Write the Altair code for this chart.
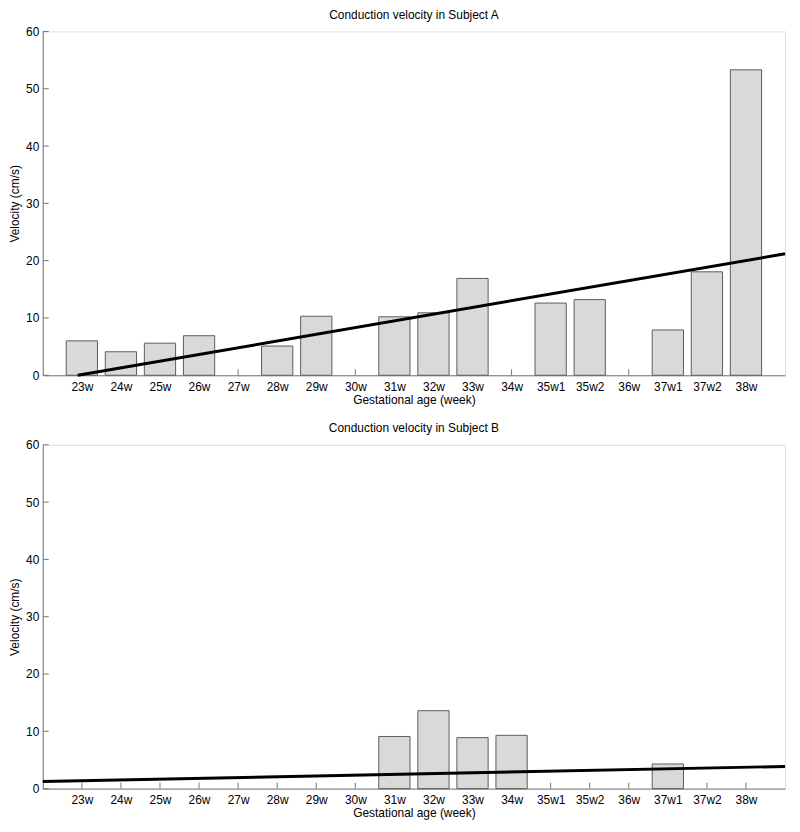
import altair as alt
import pandas as pd

weeks = ["23w", "24w", "25w", "26w", "27w", "28w", "29w", "30w", "31w", "32w",
         "33w", "34w", "35w1", "35w2", "36w", "37w1", "37w2", "38w"]
vel_a = [6.0, 4.1, 5.6, 6.9, None, 5.1, 10.3, None, 10.2, 10.9,
         16.9, None, 12.6, 13.2, None, 7.9, 18.05, 53.3]
vel_b = [None, None, None, None, None, None, None, None, 9.1, 13.6,
         8.9, 9.3, None, None, None, 4.3, None, None]
fit_x_a = [0.895, 19]
fit_a = [0.0, 21.2]
fit_x_b = [0, 19]
fit_b = [1.25, 3.87]
y_ticks = [0, 10, 20, 30, 40, 50, 60]
titles = ["Conduction velocity in Subject A", "Conduction velocity in Subject B"]

W, H = 747, 346
FONT = "Liberation Sans"
AXIS_GRAY = "#777777"

label_expr = "[" + ",".join(f"'{w}'" for w in weeks) + "][datum.value - 1]"

x_scale = alt.Scale(domain=[0, 19], nice=False, zero=False)
y_scale = alt.Scale(domain=[0, 60], nice=False)

x_axis = alt.Axis(values=list(range(1, len(weeks) + 1)), labelExpr=label_expr,
                  title="Gestational age (week)", ticks=False, grid=False,
                  domainColor=AXIS_GRAY, labelPadding=6, titlePadding=2)
y_axis = alt.Axis(values=y_ticks, title="Velocity (cm/s)", ticks=False, grid=False,
                  domainColor=AXIS_GRAY, labelPadding=4, titlePadding=4)


def panel(vals, fx, fit, title):
    df = pd.DataFrame({"pos": list(range(1, len(weeks) + 1)), "week": weeks, "v": vals})
    bars_df = df.dropna()
    fit_df = pd.DataFrame({"fx": fx, "fy": fit})
    yt_df = pd.DataFrame({"t": y_ticks})

    xticks = alt.Chart(df).mark_rule(color=AXIS_GRAY, strokeWidth=1).encode(
        x=alt.X("pos:Q", scale=x_scale, axis=x_axis),
        y=alt.value(H), y2=alt.value(H - 6))
    yticks = alt.Chart(yt_df).mark_rule(color=AXIS_GRAY, strokeWidth=1).encode(
        y=alt.Y("t:Q", scale=y_scale, axis=y_axis),
        x=alt.value(0), x2=alt.value(6))
    bars = alt.Chart(bars_df).transform_calculate(
        x0="datum.pos - 0.4", x1="datum.pos + 0.4"
    ).mark_bar(fill="#d9d9d9", stroke="#5c5c5c", strokeWidth=1).encode(
        x=alt.X("x0:Q", scale=x_scale, axis=x_axis),
        x2="x1:Q",
        y=alt.Y("v:Q", scale=y_scale, axis=y_axis),
        y2=alt.datum(0))
    line = alt.Chart(fit_df).mark_line(color="black", strokeWidth=3).encode(
        x=alt.X("fx:Q", scale=x_scale, axis=x_axis),
        y=alt.Y("fy:Q", scale=y_scale, axis=y_axis))
    return alt.layer(xticks, yticks, bars, line).properties(
        width=W, height=H, title=alt.Title(title))


chart = alt.vconcat(panel(vel_a, fit_x_a, fit_a, titles[0]),
                    panel(vel_b, fit_x_b, fit_b, titles[1]),
                    spacing=15).properties(
    padding={"left": 0, "right": 0, "top": -3, "bottom": 0}).configure_view(
    stroke=None).configure(font=FONT).configure_axis(
    labelFont=FONT, titleFont=FONT, labelFontSize=12, titleFontSize=12,
    labelColor="black", titleColor="black", titleFontWeight="normal").configure_title(
    font=FONT, fontSize=12, fontWeight="normal", color="black", offset=0)

chart.save("out.html", embed_options={"renderer": "svg", "actions": False})
